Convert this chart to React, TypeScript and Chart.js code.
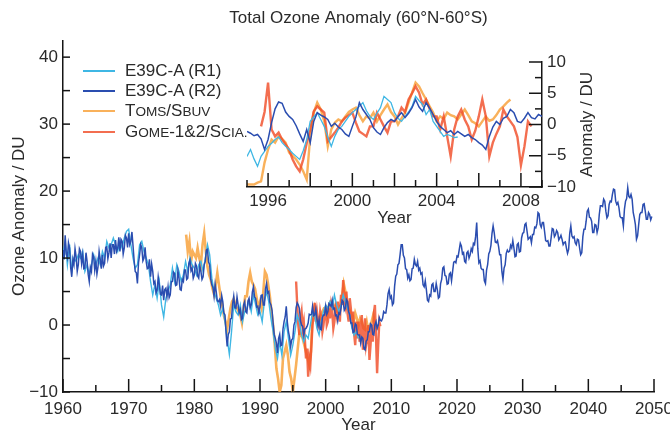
import React, { useEffect, useRef } from 'react';
import { Chart, registerables } from 'chart.js';

Chart.register(...registerables);

const FONT = '"Liberation Sans", Arial, Helvetica, sans-serif';
const TEXT = '#2a2a2a';
const AXIS = '#151515';

const TITLE = 'Total Ozone Anomaly (60°N-60°S)';
const MAIN_X_TITLE = 'Year';
const MAIN_Y_TITLE = 'Ozone Anomaly / DU';
const INSET_X_TITLE = 'Year';
const INSET_Y_TITLE = 'Anomaly / DU';

const C_R1 = '#3fb7e4';
const C_R2 = '#2a4db0';
const C_TOMS = 'rgba(248,160,55,0.82)';
const C_GOME = 'rgba(240,78,42,0.82)';

// ---------- main panel (1960-2050), values in DU ----------
const R2_MAIN_START = 1960;
const R2_MAIN_STEP = 1 / 6;
const r2Main = [
  11.2, 9.8, 13.4, 10.6, 10, 12.3,
  11.5, 8.6, 7.2, 9.8, 9, 11.4,
  10.2, 8, 9, 11.4, 11, 9.2,
  10.5, 8.4, 8.5, 10.8, 9.5, 7.6,
  6.5, 8.6, 8, 10.6, 10.2, 8.2,
  9.5, 7.6, 8.7, 11, 9.8, 8.4,
  10.5, 8.8, 9.2, 11.6, 11.7, 9.9,
  10.8, 12.2, 10, 12, 12, 10.6,
  12.7, 11, 11.5, 13.1, 11, 12.8,
  12.5, 10.6, 11.5, 13.4, 13, 11.6,
  13.7, 12, 12.5, 13.9, 11.8, 9.6,
  8, 7.8, 6.2, 9.3, 10.5, 12,
  11.5, 9.6, 10, 11.6, 9.5, 8.4,
  8.5, 9.8, 7.2, 9.1, 8, 6.2,
  6.5, 4.8, 5.2, 7.2, 6, 4.6,
  4.5, 5.9, 3.7, 5.3, 5.5, 4.2,
  5.7, 4.1, 4.5, 6.5, 6.5, 7.9,
  7.7, 5.9, 6, 8.1, 7, 5.3,
  5.2, 6.8, 6.5, 8.2, 8.2, 6.8,
  7, 9.2, 9.7, 8.1, 8.5, 7,
  7.5, 9.2, 8.8, 7.3, 7, 8.9,
  8, 6.8, 7.2, 9, 9.5, 11.2,
  11.3, 9.4, 9, 6.8, 6, 5.6,
  4.3, 6.1, 5, 3.6, 3.5, 3.8,
  2.8, 4.4, 3.5, 1.8, 1.5, -1.2,
  -3.2, -1.4, -1, 0.9, 1, 3.2,
  4.3, 2.6, 2.5, 4.2, 3, 1.8,
  2.3, 0.8, 1, 3, 3.5, 2,
  1.8, 3.6, 4, 2.6, 3, 4.9,
  5.7, 4.2, 4, 2.7, 2.8, 1.8,
  2.8, 4.4, 4.5, 3, 3, 5.4,
  6.2, 4.8, 5, 3.4, 3, 2.2,
  0.3, -1.4, -2, -2.7, -4.2, -2,
  -1.4, -3.1, -3, -0.6, 0.5, 1.2,
  2.8, 0.4, -1, -1.8, -3.2, -2.2,
  -2, 0, 0.5, 2.6, 3.3, 3,
  2.5, 0.6, 0, -0.2, -1.5, -0.6,
  -0.5, -0.2, 0.3, 1.6, 1.5, 1.6,
  2.8, 1.4, 1.5, 2.4, 1, -0.2,
  0.8, -0.6, -0.7, 1.1, 1.5, 1.5,
  2.8, 1.6, 2, 3.2, 3, 2.8,
  3.7, 2.4, 2.5, 1.4, 1.5, 0.6,
  1.8, 1.6, 2.5, 3.7, 3.5, 2.2,
  2.5, 3.8, 3.5, 2, 1.5, 0.3,
  0.3, -1.1, -1, 0.2, 0, -1.4,
  -1.5, -1.5, -2.7, -1.8, -2, -3.5,
  -3.7, -2.4, -2.2, -1, -1, 0.2,
  0, -1.4, -1.5, 0, 0.5, -0.5,
  0, 1.1, 0.7, 0.6, 1, 2,
  1.8, 1.8, 3, 4.7, 5.3, 4,
  4.3, 3, 3.3, 5.8, 7.3, 7.6,
  9, 9.2, 10.5, 12, 12, 10.4,
  10, 8.4, 8.3, 7, 7.5, 6.6,
  6.8, 8.4, 8.5, 9.8, 9, 8.8,
  9.5, 8.2, 8.5, 7.6, 7.8, 6,
  5.7, 6.6, 5.3, 3.7, 3.5, 4.5,
  4.3, 6, 6.2, 5, 5, 6.2,
  5.3, 4, 4.2, 6.2, 6.8, 8.5,
  8.7, 7.4, 7.3, 6.1, 6.2, 7.6,
  7.8, 6.6, 8, 9.4, 9.5, 9.3,
  10.3, 10.2, 11.2, 12.2, 11.8, 10.6,
  10.8, 9.5, 9.3, 10.8, 11, 10,
  10.5, 11.4, 11, 12.2, 12, 13.2,
  15.3, 11.4, 9.3, 9.6, 8.5, 8.3,
  8.3, 6.6, 6.2, 8.2, 9, 10.6,
  11, 11.9, 13.7, 14.8, 13.8, 12.4,
  12.3, 12.6, 11.7, 10.5, 10.5, 8,
  6.8, 8.5, 9, 10.7, 11.2, 10.9,
  11, 11.9, 11.5, 12.6, 11.5, 10.2,
  10.3, 12, 12.2, 10.9, 11, 13,
  13.7, 13.8, 15, 15.2, 14, 12.8,
  13, 13.2, 12.3, 13.5, 13.5, 14.6,
  14.5, 15.1, 16.8, 16.6, 15, 14.6,
  15.3, 15.3, 14, 12.6, 12.5, 12.6,
  11.8, 11.8, 13, 14.4, 14.3, 13.2,
  13.5, 14.1, 13.8, 12.7, 13, 13.4,
  12.8, 12, 12.3, 12.4, 11.5, 10.7,
  11.3, 13.7, 14.8, 13.3, 13, 13.2,
  12.3, 12, 12.8, 12.7, 11.5, 10.5,
  10.8, 13.2, 14.3, 14.3, 15.5, 17,
  17.3, 16.1, 16, 15.5, 13.8, 13.8,
  15, 14.9, 13.8, 14.5, 16.5, 17.8,
  17.8, 17.7, 18.8, 18.5, 17, 16,
  16.3, 18, 18.5, 18.4, 19.5, 20.3,
  20.2, 18.5, 18, 18.3, 17.5, 16.2,
  16, 16, 14.8, 17.3, 18.5, 18.9,
  20.5, 19.2, 19, 19.5, 18.8, 16.8,
  16, 15, 12.8, 13.3, 15, 16.5,
  16.8, 16.8, 18, 18.1, 17, 15.8,
  15.8, 16.8, 16.5, 15.7, 16.2,
];

const R1_MAIN_START = 1960;
const R1_MAIN_STEP = 1 / 3;
const r1Main = [
  10.5, 12.5, 9, 12, 8, 10, 9.5, 10.5, 10, 11, 8, 9,
  7.5, 9, 10.5, 9, 10, 9, 11, 10, 12.5, 11.5, 12, 13,
  12, 11, 12.5, 11.5, 13, 14, 14.3, 12, 10, 8.5, 9, 12,
  12.5, 11, 10, 9, 6.5, 4.5, 6, 4, 6.5, 3, 1.2, 4,
  5, 6, 8.5, 6.5, 9, 8, 6.5, 7.5, 9.5, 8, 10, 9,
  8.5, 7.5, 9, 9.5, 8, 10, 12, 10.5, 7, 5, 4, 3,
  1.5, 2.5, 0.5, -2, -4.4, -1, 3, 2, 1.5, 3, 0.5, 2,
  2.5, 3.5, 2, 4.5, 3, 1.5, 2, 0.5, 3.5, 5, 3.5, 1,
  -1, -3.5, -5, -2.5, -4.5, -1, 0.5, -2, -4.5, -3, -1, 1.5,
  0.5, -1.5, -2.5, -1.5, -2, 0, 2, 1.5, -0.5, -1.5, 0.5, 2,
  3, 2.5, 3.5, 2.5, 4.5, 3, 2, 3, 4.5, 3.5, 2.5, 1.5,
  -0.5, -1.5, -1, -2,
];

const TOMS_MAIN_START = 1978.75;
const TOMS_MAIN_STEP = 0.25;
const tomsMain = [
  13.5,
  11, 12.5, 9.5, 11, 10.5, 10, 11.5, 10, 9, 12, 13.7, 11,
  8.7, 7.5, 6.8, 5.5, 4.6, 6, 7.8, 6, 4.3, 3, 1.4, 0.5,
  -0.6, 1, 2.5, 3.5, 3.9, 3, 2.5, 2, 1.5, 0.3, 2.5, 4.3,
  4.3, 6.5, 7.8, 6.5, 6, 5.4, 4, 2.5, 3.5, 2.5, 5, 8,
  7.5, 6, 4.3, 2, -0.1, -3, -6.5, -8, -10, -9, -5, -4,
  -3, -4.5, -7, -8, -10, -8, -5.9, -3.5, -1.1, -1.5, -2, -3,
  -4, -5, -6, -4, 1.4, 2.5, 1, 0, 0.4, 1.5, 2, 2.5,
  2.5, 1.5, 3, 3.5, 3.3, 2.5, 3, 2, 1.8, 3, 4.5, 6.2,
  5, 3.5, 2.5, 2, 1.5, 0.5, 1.8, 1, 0, 1, 0.5, -0.5,
  -0.7, 0.5, -1, 0, 0.5, 1.5, 0, -0.5, -0.5,
];

const GOME_MAIN_START = 1995.5;
const GOME_MAIN_STEP = 1 / 6;
const gomeMain = [
  6.5, 3, 0,
  -1.5, 1, 2, -0.5, 0.5, -2.2,
  -5, -3.5, -7.7, -5, -6, -3,
  0, 1.5, 3.3, 0.5, 2, 0.5,
  -0.2, 2, 1, -1, 0, 1.5,
  2.7, 0, 0.5, 2.5, 1, 3,
  2, -0.5, 0.5, 2.5, 1.5, 3.5,
  2, 0.5, 4.5, 3, 6.7, 4,
  3, 5, 1.7, 0.5, 4, 2.5,
  0, 2, -1.3, -3, 0.5, -2,
  0.5, -2.5, -1, 1.5, -3.7, -1,
  1, -3, -2, 0, -5.2, -3,
  0, -2.5, 1.7, 3, -2, -7.2,
  -3, 0.5, -0.2,
];

// ---------- inset panel (1995-2009) ----------
const R2_INSET_START = 1995;
const R2_INSET_STEP = 1 / 6;
const r2Inset = [
  -1.1, -1.4, -1.8, -1.6, -2.3, -4.0,
  -2.4, 0.3, 2.5, 3.6, 3.4, 2.0,
  1.3, 0.8, -0.2, -1.5, -2.7, -0.8,
  -2.9, 0.5, 1.9, 1.5, 1.2, 0.8,
  -0.3, 0.2, -0.4, -0.8, -1.5, -1.9,
  -0.3, 1.2, 3.5, 2.4, 1.6, 0.8,
  -0.5, -1.2, -1.6, -0.5, 0.3, 0.8,
  0.5, 1.3, 1.9, 1.1, 1.8, 2.7,
  4.0, 2.8, 2.1, 3.5, 2.6, 1.6,
  0.5, -0.3, -0.8, -1.3, -1.0, -1.6,
  -1.1, -1.5, -1.9, -1.6, -2.1, -2.4,
  -2.9, -3.3, -4.0, -1.9, -0.4, 0.5,
  0, 1.0, 1.3, 2.4, 1.9, 0.5,
  0.3, 1.0, 1.9, 1.1, 0.9, 1.6,
  1.3,
];

const R1_INSET_START = 1995;
const R1_INSET_STEP = 1 / 6;
const r1Inset = [
  -5.1, -4.0, -5.5, -6.7, -5.1, -4.3,
  -3.5, -3.0, -2.4, -2.0, -2.9, -3.5,
  -4.0, -4.6, -5.1, -5.6, -4.2, -2.4,
  0.5, 1.2, 1.9, 0.8, -0.3, -2.0,
  -3.5, -1.9, -0.8, -0.3, 0.5, 1.3,
  1.9, 2.4, 2.9, 3.5, 2.2, 1.3,
  0.8, 1.8, 2.7, 4.5, 4.0, 3.5,
  1.9, 1.0, 0.5, 1.3, 2.0, 2.9,
  4.5, 3.8, 3.2, 1.6, 2.4, 0.5,
  -0.3, -1.1, -1.9, -1.6, -1.8, -2.1,
  -2.0,
];

const TOMS_INSET_START = 1995;
const TOMS_INSET_STEP = 1 / 6;
const tomsInset = [
  -9.6, -9.6, -9.6, -9.3, -9.1, -6.1,
  -4.0, -2.4, -2.9, -1.9, -2.3, -2.9,
  -4.5, -5.0, -5.6, -6.4, -7.5, -8.8,
  -1.9, 1.9, 3.5, 2.4, 0.5, -3.5,
  -0.8, 0.3, 0.8, 0.5, 1.3, 2.0,
  2.4, 2.7, 1.5, 0.5, 1.3, 1.0,
  1.9, 0.5, 1.5, 2.4, 3.2, 2.0,
  1.3, 0, 1.0, 1.9, 3.5, 5.1,
  6.7, 6.1, 5.0, 4.0, 2.9, 1.9,
  0.5, 1.3, 0.9, 1.9, 1.5, 1.3,
  0.8, 1.6, 2.4, 1.5, 0.5, 0.2,
  -0.3, 0.5, 1.3, 0.6, 0.8, 1.5,
  2.4, 2.9, 3.5, 4.0,
];

const GOME_INSET_START = 1995 + 4 / 6;
const GOME_INSET_STEP = 1 / 6;
const gomeInset = [
  -0.3, 2.0,
  6.7, -0.8, -1.9, -1.3, -2.4, -3.2,
  -4.0, -5.6, -6.7, -7.5, -5.6, -3.0,
  -0.8, 2.1, 2.9, 2.4, 1.9, -2.7,
  -2.0, -1.3, -0.5, 0.5, 1.1, 1.5,
  1.9, 0.3, -1.1, -1.5, -1.9, -0.3,
  -0.3, 1.9, 0.8, -0.3, -1.3, 0.5,
  0.5, 1.3, 2.7, 2.0, 4.0, 5.0,
  6.1, 5.1, 3.2, 4.0, 2.5, 1.3,
  1.3, -0.8, 1.3, -1.9, -5.1, -0.8,
  1.3, 2.4, 0.8, -0.3, -2.4, -1.0,
  1.3, 4.0, 1.3, -5.1, -2.9, -1.5,
  -0.3, 2.4, 1.3, 0.5, -0.3, -2.0,
  -6.5, -3.5, 0.5, -0.3,
];

const series = (start: number, step: number, vals: number[]) =>
  vals.map((v, i) => ({ x: Math.round((start + i * step) * 10000) / 10000, y: v }));

const fmt = (v: number) => (v < 0 ? '\u2212' + Math.abs(v) : String(v));
const isMult = (v: number, m: number) => Math.abs(v / m - Math.round(v / m)) < 1e-6;

const font = (size: number, lineHeight = 1.2) => ({ family: FONT, size, weight: 'normal' as const, lineHeight });

const inwardTicks = {
  id: 'inwardTicks',
  afterDraw(chart: any, _args: any, opts: any) {
    const { ctx, chartArea } = chart;
    ctx.save();
    ctx.strokeStyle = AXIS;
    ctx.lineWidth = 1.5;
    (opts.axes || []).forEach((a: any) => {
      const scale = chart.scales[a.id];
      scale.ticks.forEach((t: any) => {
        const len = isMult(t.value, a.major) ? a.majorLen : a.minorLen;
        const p = scale.getPixelForValue(t.value);
        ctx.beginPath();
        if (a.side === 'bottom') {
          ctx.moveTo(p, chartArea.bottom);
          ctx.lineTo(p, chartArea.bottom - len);
        } else if (a.side === 'left') {
          ctx.moveTo(chartArea.left, p);
          ctx.lineTo(chartArea.left + len, p);
        } else {
          ctx.moveTo(chartArea.right, p);
          ctx.lineTo(chartArea.right - len, p);
        }
        ctx.stroke();
      });
    });
    if (opts.rightTitle) {
      ctx.fillStyle = TEXT;
      ctx.font = `17px ${FONT}`;
      ctx.textAlign = 'center';
      ctx.textBaseline = 'middle';
      ctx.translate(chartArea.right + opts.rightTitleOffset, (chartArea.top + chartArea.bottom) / 2);
      ctx.rotate(-Math.PI / 2);
      ctx.fillText(opts.rightTitle, 0, 0);
    }
    ctx.restore();
  },
};

const axisCommon = {
  grid: { display: true, drawOnChartArea: false, drawTicks: false },
  border: { display: true, color: AXIS, width: 1.5 },
};

const line = (label: string, data: any[], color: string, width: number, order: number) => ({
  label,
  data,
  borderColor: color,
  backgroundColor: color,
  borderWidth: width,
  pointRadius: 0,
  tension: 0,
  fill: false,
  order,
});

export default function App() {
  const mainRef = useRef<HTMLCanvasElement>(null);
  const insetRef = useRef<HTMLCanvasElement>(null);

  useEffect(() => {
    if (!mainRef.current || !insetRef.current) return;
    const main = new Chart(mainRef.current, {
      type: 'line',
      data: {
        datasets: [
          line('E39C-A (R2)', series(R2_MAIN_START, R2_MAIN_STEP, r2Main), C_R2, 1.5, 0),
          line('E39C-A (R1)', series(R1_MAIN_START, R1_MAIN_STEP, r1Main), C_R1, 1.4, 1),
          line('GOME-1&2/SCIA.', series(GOME_MAIN_START, GOME_MAIN_STEP, gomeMain), C_GOME, 2.4, 2),
          line('TOMS/SBUV', series(TOMS_MAIN_START, TOMS_MAIN_STEP, tomsMain), C_TOMS, 2.6, 3),
        ],
      },
      options: {
        animation: false,
        responsive: false,
        devicePixelRatio: 1,
        events: [],
        layout: { padding: { left: 8, right: 46, top: 0, bottom: 0 } },
        plugins: {
          legend: { display: false },
          tooltip: { enabled: false },
          title: {
            display: true,
            text: TITLE,
            fullSize: false,
            color: TEXT,
            font: font(17),
            padding: { top: 8, bottom: 12 },
          },
          inwardTicks: {
            axes: [
              { id: 'x', side: 'bottom', major: 10, majorLen: 13, minorLen: 7 },
              { id: 'y', side: 'left', major: 5, majorLen: 7, minorLen: 7 },
            ],
          },
        } as any,
        scales: {
          x: {
            type: 'linear',
            min: 1960,
            max: 2050,
            ...axisCommon,
            ticks: {
              stepSize: 5,
              autoSkip: false,
              maxRotation: 0,
              includeBounds: false,
              padding: 7,
              color: TEXT,
              font: font(17),
              callback: (v: any) => (isMult(v, 10) ? String(v) : ''),
            },
            title: { display: true, text: MAIN_X_TITLE, color: TEXT, font: font(17, 1), padding: { top: 0, bottom: 0 } },
            afterFit: (s: any) => {
              s.height = 42;
            },
          },
          y: {
            type: 'linear',
            min: -10,
            max: 42.5,
            ...axisCommon,
            ticks: {
              stepSize: 5,
              autoSkip: false,
              includeBounds: false,
              padding: 5,
              color: TEXT,
              font: font(17),
              callback: (v: any) => (isMult(v, 10) ? fmt(v) : ''),
            },
            title: { display: true, text: MAIN_Y_TITLE, color: TEXT, font: font(17), padding: { top: 1, bottom: 0 } },
            afterFit: (s: any) => {
              s.width = 55;
            },
          },
        },
      } as any,
      plugins: [inwardTicks],
    });

    const inset = new Chart(insetRef.current, {
      type: 'line',
      data: {
        datasets: [
          line('E39C-A (R2)', series(R2_INSET_START, R2_INSET_STEP, r2Inset), C_R2, 1.5, 0),
          line('E39C-A (R1)', series(R1_INSET_START, R1_INSET_STEP, r1Inset), C_R1, 1.3, 1),
          line('GOME-1&2/SCIA.', series(GOME_INSET_START, GOME_INSET_STEP, gomeInset), C_GOME, 2.4, 2),
          line('TOMS/SBUV', series(TOMS_INSET_START, TOMS_INSET_STEP, tomsInset), C_TOMS, 2.4, 3),
        ],
      },
      options: {
        animation: false,
        responsive: false,
        devicePixelRatio: 1,
        events: [],
        layout: { padding: { left: 47, right: 0, top: 22, bottom: 0 } },
        plugins: {
          legend: { display: false },
          tooltip: { enabled: false },
          inwardTicks: {
            axes: [
              { id: 'x', side: 'bottom', major: 2, majorLen: 14, minorLen: 7 },
              { id: 'y', side: 'right', major: 5, majorLen: 13, minorLen: 7 },
            ],
            rightTitle: INSET_Y_TITLE,
            rightTitleOffset: 45,
          },
        } as any,
        scales: {
          x: {
            type: 'linear',
            min: 1995,
            max: 2009,
            ...axisCommon,
            ticks: {
              stepSize: 1,
              autoSkip: false,
              maxRotation: 0,
              includeBounds: false,
              padding: 4,
              color: TEXT,
              font: font(17),
              callback: (v: any) => (isMult(v, 4) ? String(v) : ''),
            },
            title: { display: true, text: INSET_X_TITLE, color: TEXT, font: font(17), padding: { top: 0, bottom: 1 } },
            afterFit: (s: any) => {
              s.height = 43;
            },
          },
          y: {
            type: 'linear',
            position: 'right',
            min: -10,
            max: 10,
            ...axisCommon,
            ticks: {
              stepSize: 2.5,
              autoSkip: false,
              includeBounds: false,
              padding: 5,
              color: TEXT,
              font: font(17),
              callback: (v: any) => (isMult(v, 5) ? fmt(v) : ''),
            },
            afterFit: (s: any) => {
              s.width = 78;
            },
          },
        },
      } as any,
      plugins: [inwardTicks],
    });

    return () => {
      main.destroy();
      inset.destroy();
    };
  }, []);

  const small = { fontSize: '0.8em' };
  const legendItems = [
    { color: C_R1, text: <>E39C-A (R1)</> },
    { color: C_R2, text: <>E39C-A (R2)</> },
    {
      color: C_TOMS,
      text: (
        <>
          T<span style={small}>OMS</span>/S<span style={small}>BUV</span>
        </>
      ),
    },
    {
      color: C_GOME,
      text: (
        <>
          G<span style={small}>OME</span>-1&amp;2/S<span style={small}>CIA.</span>
        </>
      ),
    },
  ];

  return (
    <div
      style={{
        position: 'absolute',
        left: 0,
        top: 0,
        width: 670,
        height: 434,
        overflow: 'hidden',
        background: '#fff',
        fontFamily: FONT,
      }}
    >
      <canvas
        ref={mainRef}
        width={700}
        height={434}
        style={{ position: 'absolute', left: 0, top: 0, width: 700, height: 434 }}
      />
      <canvas
        ref={insetRef}
        width={420}
        height={190}
        style={{ position: 'absolute', left: 200, top: 40, width: 420, height: 190 }}
      />
      <div style={{ position: 'absolute', left: 83, top: 60.5, color: TEXT, fontSize: 17 }}>
        {legendItems.map((it, i) => (
          <div key={i} style={{ display: 'flex', alignItems: 'center', height: 20.3, whiteSpace: 'nowrap' }}>
            <div style={{ width: 32, height: 2, background: it.color, marginRight: 10 }} />
            <span>{it.text}</span>
          </div>
        ))}
      </div>
    </div>
  );
}
